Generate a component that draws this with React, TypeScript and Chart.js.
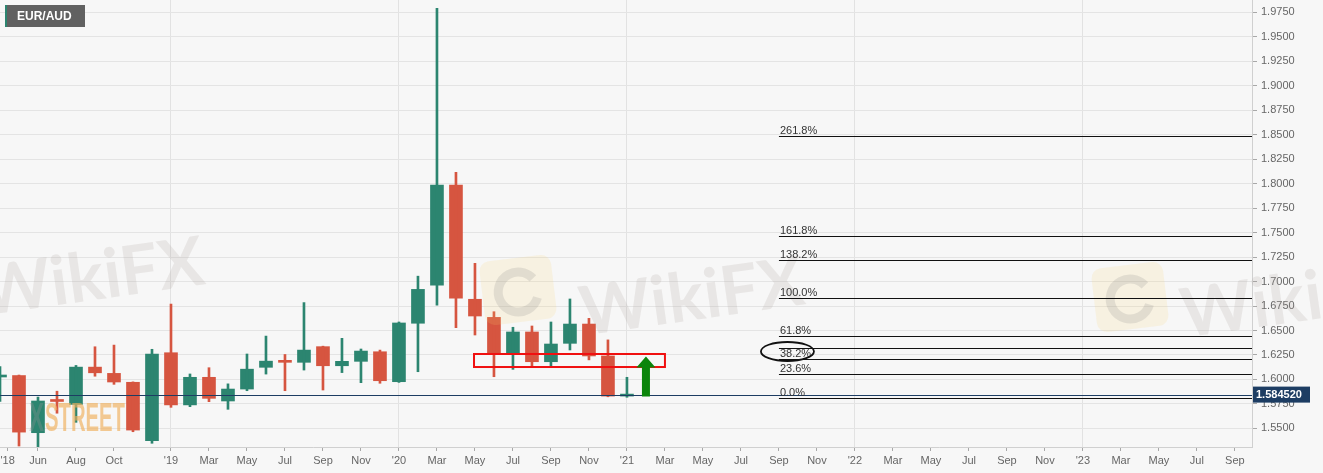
import { useEffect, useRef } from "react";
import { Chart, registerables } from "chart.js";

Chart.register(...registerables);

// monthly candles, Apr 2018 .. Jan 2021
const months = [
  "Apr 18", "May 18", "Jun 18", "Jul 18", "Aug 18", "Sep 18", "Oct 18", "Nov 18", "Dec 18",
  "Jan 19", "Feb 19", "Mar 19", "Apr 19", "May 19", "Jun 19", "Jul 19", "Aug 19", "Sep 19",
  "Oct 19", "Nov 19", "Dec 19", "Jan 20", "Feb 20", "Mar 20", "Apr 20", "May 20", "Jun 20",
  "Jul 20", "Aug 20", "Sep 20", "Oct 20", "Nov 20", "Dec 20", "Jan 21",
];
const opens = [
  1.6025, 1.604, 1.5456, 1.5785, 1.5745, 1.6126, 1.6062, 1.5971, 1.5374,
  1.6273, 1.574, 1.6022, 1.578, 1.5902, 1.6124, 1.618, 1.6175, 1.6335,
  1.614, 1.6185, 1.6283, 1.5977, 1.6574, 1.6963, 1.7986, 1.6819, 1.6634,
  1.6273, 1.6485, 1.6181, 1.6369, 1.6566, 1.624, 1.583,
];
const highs = [
  1.6132, 1.6045, 1.582, 1.588, 1.6143, 1.6334, 1.6351, 1.5975, 1.6308,
  1.677, 1.6056, 1.612, 1.5955, 1.626, 1.6443, 1.6255, 1.6785, 1.634,
  1.642, 1.6311, 1.63, 1.6587, 1.7055, 1.979, 1.8116, 1.7186, 1.6692,
  1.6533, 1.6546, 1.6587, 1.6822, 1.6624, 1.6404, 1.6022,
];
const lows = [
  1.5775, 1.532, 1.53, 1.5655, 1.5562, 1.6033, 1.595, 1.5466, 1.5348,
  1.5715, 1.5722, 1.5773, 1.5695, 1.5885, 1.6055, 1.5885, 1.6096, 1.5892,
  1.607, 1.5967, 1.5961, 1.597, 1.6079, 1.676, 1.6529, 1.6454, 1.6028,
  1.6103, 1.6137, 1.614, 1.6301, 1.62, 1.5823, 1.5818,
];
const closes = [
  1.6035, 1.5462, 1.578, 1.5775, 1.6126, 1.6068, 1.5974, 1.5483, 1.626,
  1.574, 1.6022, 1.5807, 1.5902, 1.6105, 1.6187, 1.6175, 1.63, 1.614,
  1.6185, 1.629, 1.5987, 1.6577, 1.692, 1.7986, 1.6829, 1.6648, 1.6273,
  1.6485, 1.6181, 1.6362, 1.6566, 1.624, 1.583, 1.5845,
];

// axis ticks (month index from Apr 2018)
const xTickPos = [0.4, 2, 4, 6, 9, 11, 13, 15, 17, 19, 21, 23, 25, 27, 29, 31, 33, 35, 37, 39, 41, 43, 45, 47, 49, 51, 53, 55, 57, 59, 61, 63, 65];
const xTickLabels = [
  "'18", "Jun", "Aug", "Oct",
  "'19", "Mar", "May", "Jul", "Sep", "Nov",
  "'20", "Mar", "May", "Jul", "Sep", "Nov",
  "'21", "Mar", "May", "Jul", "Sep", "Nov",
  "'22", "Mar", "May", "Jul", "Sep", "Nov",
  "'23", "Mar", "May", "Jul", "Sep",
];
const yearTicks = [9, 21, 33, 45, 57];
const yTicks = [
  1.55, 1.575, 1.6, 1.625, 1.65, 1.675, 1.7, 1.725, 1.75,
  1.775, 1.8, 1.825, 1.85, 1.875, 1.9, 1.925, 1.95, 1.975,
];

// fibonacci levels drawn from Sep '21 to the right edge
const fibLevels = [1.581, 1.6055, 1.6204, 1.6321, 1.6444, 1.6832, 1.7225, 1.7465, 1.8486];
const fibLabels = ["0.0%", "23.6%", "38.2%", "", "61.8%", "100.0%", "138.2%", "161.8%", "261.8%"];
const fibStart = 41;

// annotations
const zoneX = [24.95, 35];
const zoneY = [1.6127, 1.626];
const arrowX = 34;
const arrowY = [1.5825, 1.6235];
const lastPrice = 1.58452;

const GREEN = "#2c8570";
const RED = "#d65540";
const FONT = "'Liberation Sans', Arial, sans-serif";

const overlay = {
  id: "overlay",
  beforeDraw(chart: any) {
    const ctx = chart.ctx;
    ctx.save();
    ctx.fillStyle = "#f7f7f7";
    ctx.fillRect(0, 0, chart.width, chart.height);
    ctx.restore();
  },
  afterDatasetsDraw(chart: any) {
    const ctx = chart.ctx;
    const xs = chart.scales.x;
    const ys = chart.scales.y;
    const area = chart.chartArea;

    // watermarks
    ctx.save();
    const mark = (cx: number, cy: number) => {
      ctx.save();
      ctx.translate(cx, cy);
      ctx.rotate(-0.14);
      ctx.font = `bold 68px Lato, ${FONT}`;
      ctx.fillStyle = "rgba(165,155,150,0.18)";
      ctx.textAlign = "center";
      ctx.textBaseline = "middle";
      ctx.fillText("WikiFX", 0, 0);
      ctx.restore();
    };
    const logo = (cx: number, cy: number) => {
      ctx.save();
      ctx.translate(cx, cy);
      ctx.rotate(-0.12);
      ctx.fillStyle = "rgba(250,210,110,0.16)";
      ctx.beginPath();
      ctx.roundRect(-36, -32, 72, 64, 10);
      ctx.fill();
      ctx.strokeStyle = "rgba(130,125,125,0.18)";
      ctx.lineWidth = 9;
      ctx.beginPath();
      ctx.arc(0, 2, 20, 0.4, Math.PI * 1.8);
      ctx.stroke();
      ctx.restore();
    };
    mark(92, 278);
    logo(518, 290);
    mark(692, 298);
    logo(1130, 297);
    mark(1293, 300);
    const narrow = (text: string, x: number, w: number, color: string) => {
      ctx.save();
      ctx.font = `bold 40px ${FONT}`;
      ctx.textBaseline = "alphabetic";
      ctx.textAlign = "left";
      ctx.translate(x, 431);
      ctx.scale(w / ctx.measureText(text).width, 1);
      ctx.fillStyle = color;
      ctx.fillText(text, 0, 0);
      ctx.restore();
    };
    narrow("X", 29, 15, "rgba(150,150,150,0.3)");
    narrow("STREET", 45, 80, "rgba(240,175,90,0.65)");
    ctx.restore();

    ctx.save();
    ctx.beginPath();
    ctx.rect(area.left, area.top, area.right - area.left, area.bottom - area.top);
    ctx.clip();

    // last price line
    const py = Math.round(ys.getPixelForValue(lastPrice)) + 0.5;
    ctx.strokeStyle = "#1d3d63";
    ctx.lineWidth = 1;
    ctx.beginPath();
    ctx.moveTo(area.left, py);
    ctx.lineTo(area.right, py);
    ctx.stroke();

    // fib levels
    const fx = xs.getPixelForValue(fibStart);
    ctx.font = `11px ${FONT}`;
    ctx.fillStyle = "#333";
    ctx.textAlign = "left";
    ctx.textBaseline = "alphabetic";
    fibLevels.forEach((v, i) => {
      const y = Math.round(ys.getPixelForValue(v)) + 0.5;
      ctx.strokeStyle = "#111";
      ctx.lineWidth = 1.2;
      ctx.beginPath();
      ctx.moveTo(fx, y);
      ctx.lineTo(area.right, y);
      ctx.stroke();
      if (fibLabels[i]) ctx.fillText(fibLabels[i], fx + 1, y - 2.5);
    });

    // ellipse round the 38.2% label
    const ey = ys.getPixelForValue(fibLevels[2]) - 8;
    ctx.strokeStyle = "#111";
    ctx.lineWidth = 1.8;
    ctx.beginPath();
    ctx.ellipse(fx + 8.5, ey, 26.5, 9.5, 0, 0, Math.PI * 2);
    ctx.stroke();

    // red support zone
    const rx0 = xs.getPixelForValue(zoneX[0]);
    const rx1 = xs.getPixelForValue(zoneX[1]);
    const ry0 = ys.getPixelForValue(zoneY[1]);
    const ry1 = ys.getPixelForValue(zoneY[0]);
    ctx.strokeStyle = "#f01010";
    ctx.lineWidth = 2;
    ctx.strokeRect(rx0, ry0, rx1 - rx0, ry1 - ry0);

    // green arrow
    const ax = xs.getPixelForValue(arrowX);
    const ab = ys.getPixelForValue(arrowY[0]);
    const at = ys.getPixelForValue(arrowY[1]);
    ctx.fillStyle = "#0b850b";
    ctx.beginPath();
    ctx.moveTo(ax, at);
    ctx.lineTo(ax + 9.5, at + 11);
    ctx.lineTo(ax + 4, at + 11);
    ctx.lineTo(ax + 4, ab);
    ctx.lineTo(ax - 4, ab);
    ctx.lineTo(ax - 4, at + 11);
    ctx.lineTo(ax - 9.5, at + 11);
    ctx.closePath();
    ctx.fill();
    ctx.restore();
  },
  afterDraw(chart: any) {
    const ctx = chart.ctx;
    const ys = chart.scales.y;
    const area = chart.chartArea;
    ctx.save();
    // last price tag
    const py = ys.getPixelForValue(lastPrice);
    ctx.fillStyle = "#1d3d63";
    ctx.fillRect(area.right + 1, py - 8, 57, 16);
    ctx.fillStyle = "#fff";
    ctx.font = `bold 11px ${FONT}`;
    ctx.textAlign = "left";
    ctx.textBaseline = "middle";
    ctx.fillText(lastPrice.toFixed(6), area.right + 4, py + 0.5);

    // symbol box
    ctx.fillStyle = "#616161";
    ctx.fillRect(5, 5, 80, 22);
    ctx.fillStyle = "#2c8570";
    ctx.fillRect(5, 5, 2, 22);
    ctx.fillStyle = "#fff";
    ctx.font = `bold 12px ${FONT}`;
    ctx.fillText("EUR/AUD", 17, 16.5);
    ctx.restore();
  },
};

const App = () => {
  const chartRef = useRef<HTMLCanvasElement | null>(null);

  useEffect(() => {
    if (!chartRef.current) return;
    const ctx = chartRef.current.getContext("2d");
    if (!ctx) return;

    const colors = closes.map((c, i) => (c >= opens[i] ? GREEN : RED));

    const chartInstance = new Chart(ctx, {
      type: "bar",
      data: {
        datasets: [
          {
            label: "wick",
            data: months.map((_, i) => ({ x: i, y: [lows[i], highs[i]] })) as any,
            backgroundColor: colors,
            barThickness: 2,
            grouped: false,
            borderWidth: 0,
          },
          {
            label: "body",
            data: months.map((_, i) => ({ x: i, y: [opens[i], closes[i]] })) as any,
            backgroundColor: colors,
            barThickness: 13,
            minBarLength: 2,
            grouped: false,
            borderWidth: 0,
          },
        ],
      },
      options: {
        responsive: false,
        animation: false,
        layout: { padding: 0 },
        plugins: { legend: { display: false }, tooltip: { enabled: false } },
        scales: {
          x: {
            type: "linear",
            min: 0,
            max: 65.9,
            offset: false,
            afterBuildTicks: (s: any) => {
              s.ticks = xTickPos.map((v) => ({ value: v }));
            },
            afterFit: (s: any) => {
              s.height = 26;
              s.paddingLeft = 0;
              s.paddingRight = 0;
            },
            grid: {
              offset: false,
              color: (c: any) => (c.tick && yearTicks.includes(c.tick.value) ? "#e2e2e2" : "rgba(0,0,0,0)"),
              tickColor: "#a8a8a8",
              tickLength: 4,
            },
            border: { color: "#d0d0d0" },
            ticks: {
              autoSkip: false,
              maxRotation: 0,
              padding: 3,
              color: "#666",
              font: { family: FONT, size: 11 },
              callback: (_v: any, i: number) => xTickLabels[i],
            },
          },
          y: {
            type: "linear",
            position: "right",
            min: 1.531,
            max: 1.9876,
            afterBuildTicks: (s: any) => {
              s.ticks = yTicks.map((v) => ({ value: v }));
            },
            afterFit: (s: any) => {
              s.width = 71;
              s.paddingTop = 0;
              s.paddingBottom = 0;
            },
            grid: { color: "#e4e4e4", tickColor: "#a8a8a8", tickLength: 5 },
            border: { color: "#d0d0d0" },
            ticks: {
              padding: 4,
              color: "#666",
              font: { family: FONT, size: 11 },
              callback: (v: any) => Number(v).toFixed(4),
            },
          },
        },
      },
      plugins: [overlay],
    });

    return () => {
      chartInstance.destroy();
    };
  }, []);

  return (
    <div style={{ position: "absolute", left: 0, top: 0, width: 1323, height: 473 }}>
      <canvas ref={chartRef} width={1323} height={473} style={{ display: "block" }}></canvas>
    </div>
  );
};

export default App;
